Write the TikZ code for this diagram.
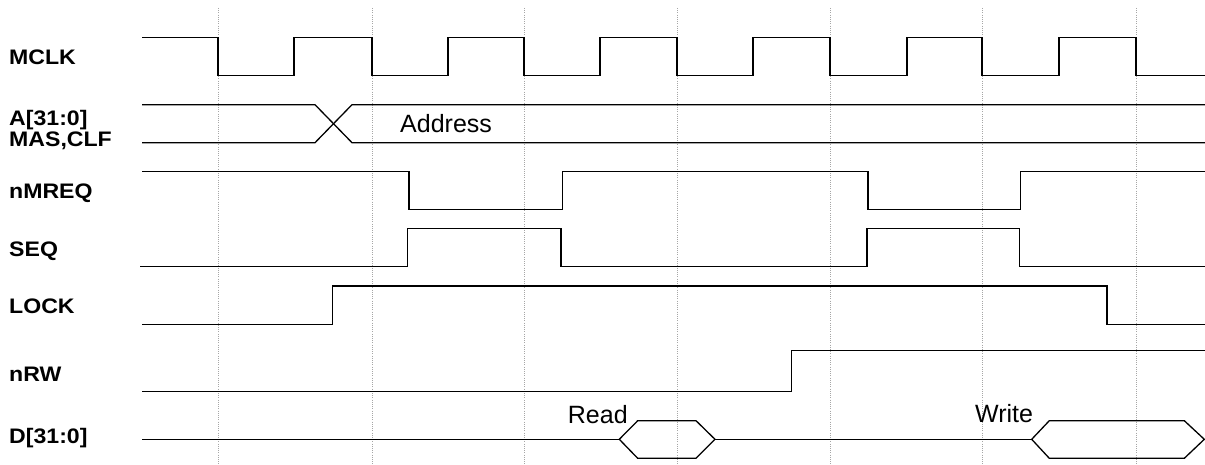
\documentclass[tikz,border=0pt]{standalone}
\usepackage{fontspec}
\setmainfont{Liberation Sans}
\newfontfamily\lblfont{Liberation Sans}[FakeStretch=1.1]
\begin{document}
\begin{tikzpicture}[x=1pt,y=-1pt,
  sig/.style={line width=1.3pt,line join=miter},
  grid/.style={line width=0.5pt,gray!70,dash pattern=on 1pt off 1.2pt},
  sname/.style={anchor=base west,inner sep=0pt,font=\lblfont\bfseries\fontsize{21}{21}\selectfont},
  vlabel/.style={anchor=base west,inner sep=0pt,font=\fontsize{25}{25}\selectfont}]
\useasboundingbox (0,0) rectangle (1205,465);
% timing grid
\foreach \x in {218,372,524,677,830,982,1136}
  \draw[grid] (\x,8) -- (\x,465);
% signal names
\node[sname] (nmclk) at (9,65) {MCLK};
\node[sname] (naddr) at (9,126) {A[31:0]};
\node[sname] (nmas) at (9,146.5) {MAS,CLF};
\node[sname] (nmreq) at (9,199) {nMREQ};
\node[sname] (nseq) at (9,256) {SEQ};
\node[sname] (nlock) at (9,313) {LOCK};
\node[sname] (nrw) at (9,381.7) {nRW};
\node[sname] (ndata) at (9,443.3) {D[31:0]};
% MCLK
\draw[sig] (142,37.7) -- (218,37.7) -- (218,75.7) -- (294,75.7) -- (294,37.7)
  -- (372,37.7) -- (372,75.7) -- (448,75.7) -- (448,37.7)
  -- (524,37.7) -- (524,75.7) -- (600,75.7) -- (600,37.7)
  -- (677,37.7) -- (677,75.7) -- (753,75.7) -- (753,37.7)
  -- (830,37.7) -- (830,75.7) -- (907,75.7) -- (907,37.7)
  -- (982,37.7) -- (982,75.7) -- (1059,75.7) -- (1059,37.7)
  -- (1136,37.7) -- (1136,75.7) -- (1205,75.7);
% Address bus
\draw[sig] (142,104.7) -- (315,104.7) -- (352,142.7) -- (1205,142.7);
\draw[sig] (142,142.7) -- (315,142.7) -- (352,104.7) -- (1205,104.7);
\node[vlabel] (taddr) at (400,132.7) {Address};
% nMREQ
\draw[sig] (142,171.7) -- (409,171.7) -- (409,209.7) -- (562.5,209.7) -- (562.5,171.7)
  -- (868,171.7) -- (868,209.7) -- (1020.5,209.7) -- (1020.5,171.7) -- (1205,171.7);
% SEQ
\draw[sig] (140,266.7) -- (407.5,266.7) -- (407.5,228.7) -- (561,228.7) -- (561,266.7)
  -- (867,266.7) -- (867,228.7) -- (1019.5,228.7) -- (1019.5,266.7) -- (1205,266.7);
% LOCK
\draw[sig] (142,324.3) -- (332.7,324.3) -- (332.7,286) -- (1107,286) -- (1107,324.3) -- (1205,324.3);
% nRW
\draw[sig] (142,391.7) -- (791.7,391.7) -- (791.7,350.7) -- (1205,350.7);
% D bus
\draw[sig] (142,439.3) -- (619.3,439.3);
\draw[sig] (619.3,439.3) -- (637.7,420.7) -- (696,420.7) -- (715,439.3) -- (696,458.3) -- (637.7,458.3) -- cycle;
\draw[sig] (715,439.3) -- (1031.7,439.3);
\draw[sig] (1031.7,439.3) -- (1049.3,420.7) -- (1184.3,420.7) -- (1204.3,439.3) -- (1184.3,458.3) -- (1049.3,458.3) -- cycle;
\node[vlabel] (tread) at (567.7,423.3) {Read};
\node[vlabel] (twrite) at (975,422.7) {Write};
\end{tikzpicture}
\end{document}
